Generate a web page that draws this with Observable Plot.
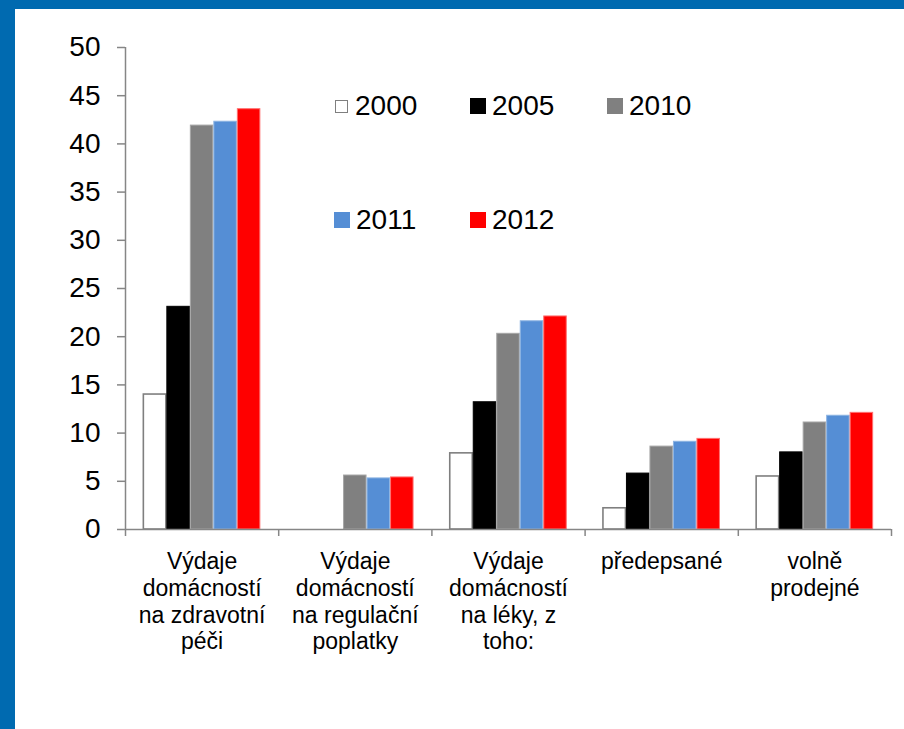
<!DOCTYPE html>
<html>
<head>
<meta charset="utf-8">
<script src="https://cdn.jsdelivr.net/npm/d3@7"></script>
<script src="https://cdn.jsdelivr.net/npm/@observablehq/plot@0.6"></script>
<style>
  html, body { margin: 0; padding: 0; overflow: hidden; background: #ffffff; }
  body { width: 904px; height: 729px; position: relative; font-family: "Liberation Sans", Arial, sans-serif; }
  #bandTop { position: absolute; left: 0; top: 0; width: 904px; height: 9px; background: #006AB0; }
  #bandLeft { position: absolute; left: 0; top: 0; width: 15px; height: 729px; background: #006AB0; }
  #frame { position: absolute; left: 15px; top: 9px; width: 889px; height: 720px; }
  #legend { position: absolute; left: 0; top: 0; }
  .item { position: absolute; display: flex; align-items: center; font-size: 28px; color: #000; height: 30px; }
  .slot { width: 16px; height: 16px; display: flex; align-items: center; justify-content: center; margin-right: 6px; }
  .sw { width: 16px; height: 16px; box-sizing: border-box; }
</style>
</head>
<body>
<div id="bandTop"></div>
<div id="bandLeft"></div>
<div id="frame"></div>
<script>
// ---- data ----
const categories = [
  "Výdaje domácností na zdravotní péči",
  "Výdaje domácností na regulační poplatky",
  "Výdaje domácností na léky, z toho:",
  "předepsané",
  "volně prodejné"
];
const categoryLabels = [
  "Výdaje\ndomácností\nna zdravotní\npéči",
  "Výdaje\ndomácností\nna regulační\npoplatky",
  "Výdaje\ndomácností\nna léky, z\ntoho:",
  "předepsané",
  "volně\nprodejné"
];
const years = ["2000", "2005", "2010", "2011", "2012"];
const values2000 = [14.0, null, 7.9, 2.2, 5.5];
const values2005 = [23.1, null, 13.2, 5.8, 8.0];
const values2010 = [41.9, 5.6, 20.3, 8.6, 11.1];
const values2011 = [42.3, 5.3, 21.6, 9.1, 11.8];
const values2012 = [43.6, 5.4, 22.1, 9.4, 12.1];
const yTicks = [0, 5, 10, 15, 20, 25, 30, 35, 40, 45, 50];

// ---- styles ----
const fills = ["#ffffff", "#000000", "#808080", "#558ED5", "#FF0000"];
const strokes = ["#7F7F7F", "#000000", "#A6A6A6", "#8DB4E2", "#FF6F6F"];
const axisColor = "#868686";

const series = [values2000, values2005, values2010, values2011, values2012];
const rows = [];
const barW = 0.1534;                 // share of a category slot per bar
const pad = (1 - years.length * barW) / 2;
categories.forEach((c, i) => {
  years.forEach((yr, j) => {
    const v = series[j][i];
    if (v == null) return;
    rows.push({cat: c, i, j, year: yr, value: v,
      x1: i + pad + j * barW, x2: i + pad + (j + 1) * barW});
  });
});
const catRows = categories.map((c, i) => ({cat: c, label: categoryLabels[i], xc: i + 0.5}));

const plot = Plot.plot({
  width: 889,
  height: 720,
  marginLeft: 110,
  marginRight: 13,
  marginTop: 38,
  marginBottom: 200,
  style: {fontFamily: "'Liberation Sans', Arial, sans-serif", background: "transparent", color: "#000"},
  x: {domain: [0, categories.length], axis: null},
  y: {domain: [0, 50], axis: null},
  color: {type: "identity"},
  marks: [
    Plot.rectY(rows, {
      x1: "x1", x2: "x2", y: "value",
      fill: d => fills[d.j],
      stroke: d => strokes[d.j],
      strokeWidth: d => d.j === 0 ? 1.6 : 1,
      insetLeft: 0.5, insetRight: 0.5
    }),
    Plot.ruleX([0], {y1: 0, y2: 50, stroke: axisColor, strokeWidth: 1.5}),
    Plot.ruleY([0], {stroke: axisColor, strokeWidth: 1.5}),
    Plot.axisY({ticks: yTicks, tickSize: 8, tickPadding: 17, fontSize: 28, label: null,
      stroke: axisColor, strokeWidth: 1.5, fill: "#000", tickFormat: d => String(d)}),
    Plot.axisX({ticks: d3.range(0, categories.length + 1), tickSize: 7, tickFormat: () => "", label: null,
      stroke: axisColor, strokeWidth: 1.5}),
    Plot.text(catRows, {x: "xc", y: () => 0, text: "label", fontSize: 23,
      lineAnchor: "top", lineHeight: 1.16, dy: 21, fill: "#000", textAnchor: "middle"})
  ]
});
const frame = document.getElementById("frame");
frame.appendChild(plot);

// ---- legend (HTML, inside the plot area) ----
const legendPos = [[318, 82], [455, 82], [592, 82], [319, 196], [455, 196]];
const legend = document.createElement("div");
legend.id = "legend";
years.forEach((yr, j) => {
  const it = document.createElement("div");
  it.className = "item";
  it.style.left = legendPos[j][0] + "px";
  it.style.top = legendPos[j][1] + "px";
  const slot = document.createElement("div");
  slot.className = "slot";
  const sw = document.createElement("div");
  sw.className = "sw";
  sw.style.background = fills[j];
  if (j === 0) { sw.style.width = "13px"; sw.style.height = "13px"; sw.style.border = "1.5px solid " + strokes[0]; }
  slot.appendChild(sw);
  const t = document.createElement("span");
  t.textContent = yr;
  it.appendChild(slot);
  it.appendChild(t);
  legend.appendChild(it);
});
frame.appendChild(legend);
</script>
</body>
</html>
